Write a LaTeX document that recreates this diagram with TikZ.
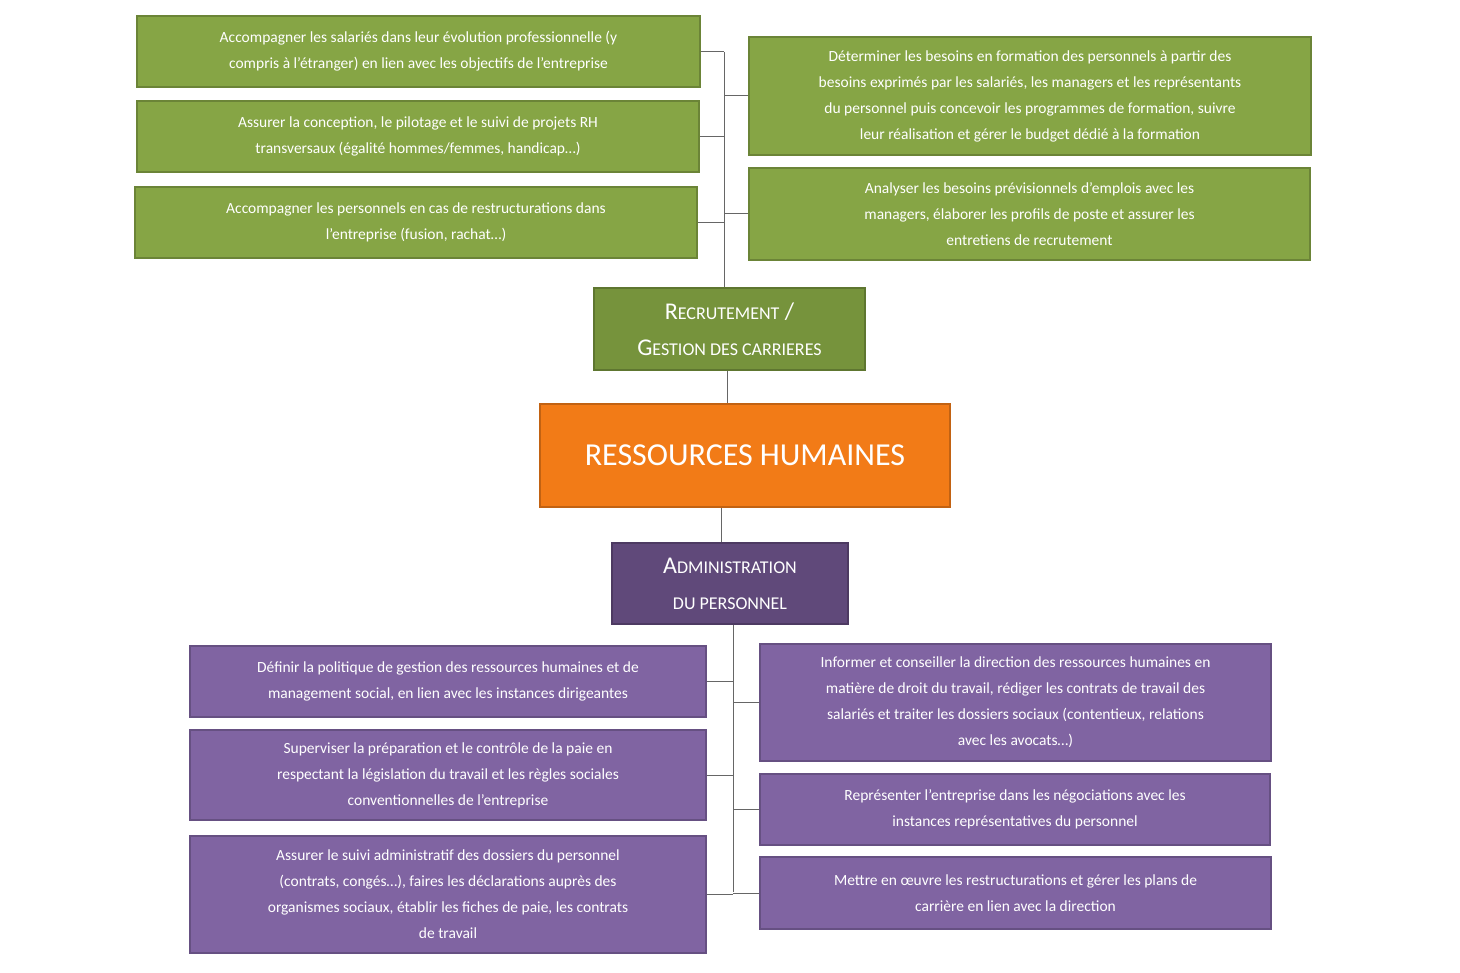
\documentclass[tikz,border=0pt]{standalone}
\usepackage{fontspec}
\setmainfont{Carlito}
\usetikzlibrary{positioning}
\definecolor{vert}{HTML}{86A545}
\definecolor{vertfonce}{HTML}{76933C}
\definecolor{violet}{HTML}{8064A2}
\definecolor{violetfonce}{HTML}{60497A}
\definecolor{orangerh}{HTML}{F27B17}
\newcommand{\petitcap}[2]{#1{\fontsize{18}{22}\selectfont #2}}
\begin{document}
\begin{tikzpicture}[x=1pt,y=-1pt,
  box/.style={draw=#1!80!black,line width=1.5pt,fill=#1,text=white,align=center,
    font=\fontsize{15.5}{26}\selectfont,inner sep=2pt},
  gbox/.style={box=vert},
  pbox/.style={box=violet},
  link/.style={draw=black!60,line width=1pt}]
  \useasboundingbox (0,0) rectangle (1460,973);
  % recrutement
  \node[gbox,minimum width=563,minimum height=71] (g1) at (418.5,51.5)
    {Accompagner les salariés dans leur évolution professionnelle (y\\compris à l’étranger) en lien avec les objectifs de l’entreprise};
  \node[gbox,minimum width=562,minimum height=71] (g2) at (418,136.5)
    {Assurer la conception, le pilotage et le suivi de projets RH\\transversaux (égalité hommes/femmes, handicap…)};
  \node[gbox,minimum width=562,minimum height=71] (g3) at (416,222.5)
    {Accompagner les personnels en cas de restructurations dans\\l’entreprise (fusion, rachat…)};
  \node[gbox,minimum width=562,minimum height=118] (g4) at (1030,96)
    {Déterminer les besoins en formation des personnels à partir des\\besoins exprimés par les salariés, les managers et les représentants\\du personnel puis concevoir les programmes de formation, suivre\\leur réalisation et gérer le budget dédié à la formation};
  \node[gbox,minimum width=561,minimum height=92] (g5) at (1029.5,214)
    {Analyser les besoins prévisionnels d’emplois avec les\\managers, élaborer les profils de poste et assurer les\\entretiens de recrutement};
  \node[box=vertfonce,minimum width=271,minimum height=82,
    font=\fontsize{24}{36}\selectfont] (rec) at (729.5,329)
    {\petitcap{R}{ECRUTEMENT} /\\\petitcap{G}{ESTION DES CARRIERES}};
  % centre
  \node[draw=orangerh!80!black,line width=2pt,fill=orangerh,text=white,
    minimum width=410,minimum height=103,font=\fontsize{32}{38}\selectfont] (rh) at (745,455.5)
    {RESSOURCES HUMAINES};
  % administration
  \node[box=violetfonce,minimum width=236,minimum height=81,
    font=\fontsize{24}{36}\selectfont] (adm) at (730,583.5)
    {\petitcap{A}{DMINISTRATION}\\\petitcap{}{DU PERSONNEL}};
  \node[pbox,minimum width=516,minimum height=71] (p1) at (448,681.5)
    {Définir la politique de gestion des ressources humaines et de\\management social, en lien avec les instances dirigeantes};
  \node[pbox,minimum width=516,minimum height=90] (p2) at (448,775)
    {Superviser la préparation et le contrôle de la paie en\\respectant la législation du travail et les règles sociales\\conventionnelles de l’entreprise};
  \node[pbox,minimum width=516,minimum height=117] (p3) at (448,894.5)
    {Assurer le suivi administratif des dossiers du personnel\\(contrats, congés…), faires les déclarations auprès des\\organismes sociaux, établir les fiches de paie, les contrats\\de travail};
  \node[pbox,minimum width=511,minimum height=117] (p4) at (1015.5,702.5)
    {Informer et conseiller la direction des ressources humaines en\\matière de droit du travail, rédiger les contrats de travail des\\salariés et traiter les dossiers sociaux (contentieux, relations\\avec les avocats…)};
  \node[pbox,minimum width=510,minimum height=71] (p5) at (1015,809.5)
    {Représenter l’entreprise dans les négociations avec les\\instances représentatives du personnel};
  \node[pbox,minimum width=511,minimum height=72] (p6) at (1015.5,893)
    {Mettre en œuvre les restructurations et gérer les plans de\\carrière en lien avec la direction};
  % connecteurs
  \coordinate (hs) at (724,52);
  \coordinate (bs) at (733,892);
  \draw[link] (hs) -- (hs |- rec.north);
  \foreach \n in {g1,g2,g3}
    \draw[link] (\n.east) -- (\n.east -| hs);
  \foreach \n in {g4,g5}
    \draw[link] (\n.west) -- (\n.west -| hs);
  \draw[link] (rec.south -| 727,0) -- (rh.north -| 727,0);
  \draw[link] (rh.south -| 721,0) -- (adm.north -| 721,0);
  \draw[link] (adm.south -| bs) -- (bs);
  \foreach \n in {p1,p2,p3}
    \draw[link] (\n.east) -- (\n.east -| bs);
  \foreach \n in {p4,p5,p6}
    \draw[link] (\n.west) -- (\n.west -| bs);
\end{tikzpicture}
\end{document}
